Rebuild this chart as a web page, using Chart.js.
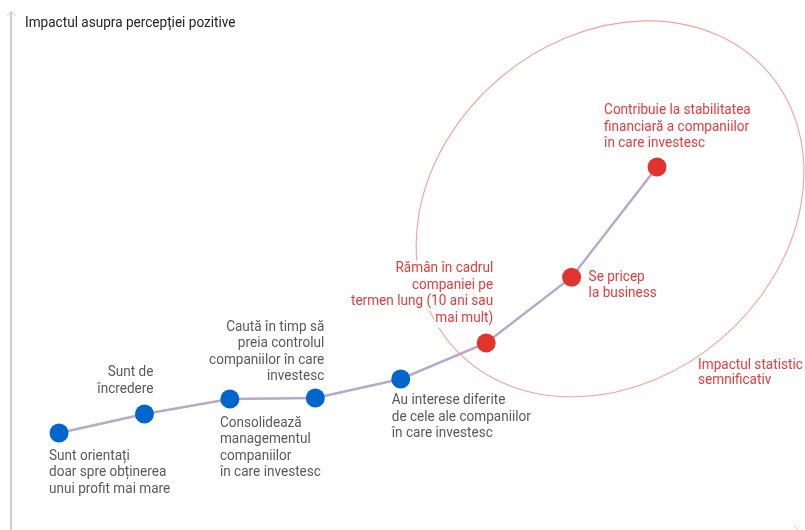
<!DOCTYPE html>
<html>
<head>
<meta charset="utf-8">
<script src="https://cdn.jsdelivr.net/npm/chart.js@4.4.0/dist/chart.umd.min.js"></script>
<style>
  html, body { margin: 0; padding: 0; background: #fff; }
  #wrap { width: 805px; height: 530px; position: relative; }
</style>
</head>
<body>
<div id="wrap"><canvas id="myChart"></canvas></div>
<script>
// date
const etichete = [
  ['Sunt orientați', 'doar spre obținerea', 'unui profit mai mare'],
  ['Sunt de', 'încredere'],
  ['Consolidează', 'managementul', 'companiilor', 'în care investesc'],
  ['Caută în timp să', 'preia controlul', 'companiilor în care', 'investesc'],
  ['Au interese diferite', 'de cele ale companiilor', 'în care investesc'],
  ['Rămân în cadrul', 'companiei pe', 'termen lung (10 ani sau', 'mai mult)'],
  ['Se pricep', 'la business'],
  ['Contribuie la stabilitatea', 'financiară a companiilor', 'în care investesc']
];
const pozitie = [1, 2, 3, 4, 5, 6, 7, 8];
const impact = [18.3, 21.9, 24.7, 24.9, 28.5, 35.3, 47.7, 68.5];
const semnificativ = [false, false, false, false, false, true, true, true];

const titluAxa = 'Impactul asupra percepției pozitive';
const notaCerc = ['Impactul statistic', 'semnificativ'];

// asezarea etichetelor fata de puncte (px)
const asezare = [
  { align: 'left',  dx: -10, dy: 23 },
  { align: 'right', dx: 9,   dy: -41 },
  { align: 'left',  dx: -10, dy: 24 },
  { align: 'right', dx: 9,   dy: -71 },
  { align: 'left',  dx: -9,  dy: 22 },
  { align: 'right', dx: 7,   dy: -74 },
  { align: 'left',  dx: 17,  dy: 0 },
  { align: 'left',  dx: -53, dy: -56 }
];

const albastru = '#0066cc';
const rosu = '#e1342f';
const textGri = '#595959';
const textRosu = '#e43b3b';
const SQ = 0.97;
const FONT = '14px Roboto, "Noto Sans", sans-serif';
const lineH = 16.5;

const ctx = document.getElementById('myChart');

function scrie(c, str, x, y, align) {
  c.save();
  c.translate(x, y);
  c.scale(SQ, 1);
  c.textAlign = align;
  c.textBaseline = 'middle';
  c.fillText(str, 0, 0);
  c.restore();
}

const decor = {
  id: 'decor',
  beforeDatasetsDraw(chart) {
    const c = chart.ctx;
    const xs = chart.scales.x, ys = chart.scales.y;
    c.save();
    // axa verticala cu sageata
    c.strokeStyle = '#cfcfcf';
    c.lineWidth = 2;
    c.beginPath();
    c.moveTo(11, 12);
    c.lineTo(11, 532);
    c.stroke();
    c.lineWidth = 1;
    c.beginPath();
    c.moveTo(7.5, 16);
    c.lineTo(11.5, 11);
    c.lineTo(15.5, 16);
    c.stroke();
    // sageata axei orizontale
    c.beginPath();
    c.moveTo(794, 526);
    c.lineTo(799, 531);
    c.stroke();

    // elipsa zonei semnificative
    const cx = xs.getPixelForValue(7.45), cy = ys.getPixelForValue(60.6);
    c.strokeStyle = '#f3a29b';
    c.lineWidth = 1.1;
    c.beginPath();
    c.ellipse(cx, cy, 209, 171, -40.5 * Math.PI / 180, 0, Math.PI * 2);
    c.stroke();

    // fundal alb sub etichete
    c.font = FONT;
    c.fillStyle = '#fff';
    const meta = chart.getDatasetMeta(0);
    meta.data.forEach((pt, i) => {
      const a = asezare[i];
      etichete[i].forEach((ln, k) => {
        const w = c.measureText(ln).width * SQ;
        const x0 = a.align === 'left' ? pt.x + a.dx : pt.x + a.dx - w;
        const y0 = pt.y + a.dy + k * lineH;
        c.fillRect(x0 - 1, y0 - 8, w + 2, 17);
      });
    });
    c.restore();
  },
  afterDatasetsDraw(chart) {
    const c = chart.ctx;
    const xs = chart.scales.x, ys = chart.scales.y;
    c.save();
    c.font = FONT;
    const meta = chart.getDatasetMeta(0);
    meta.data.forEach((pt, i) => {
      const a = asezare[i];
      c.fillStyle = semnificativ[i] ? textRosu : textGri;
      etichete[i].forEach((ln, k) => {
        scrie(c, ln, pt.x + a.dx, pt.y + a.dy + k * lineH, a.align);
      });
    });
    // nota elipsei
    const cx = xs.getPixelForValue(7.45), cy = ys.getPixelForValue(60.6);
    c.fillStyle = textRosu;
    notaCerc.forEach((ln, k) => scrie(c, ln, cx + 88, cy + 157 + k * 15, 'left'));
    // titlul axei
    c.fillStyle = '#222';
    c.font = '14px Roboto, "Noto Sans", sans-serif';
    scrie(c, titluAxa, 25, 23, 'left');
    c.restore();
  }
};

new Chart(ctx, {
  type: 'line',
  data: {
    datasets: [{
      data: pozitie.map((p, i) => ({ x: p, y: impact[i] })),
      borderColor: '#b8a9c8',
      borderWidth: 2.5,
      tension: 0,
      pointRadius: 9.5,
      pointHoverRadius: 9.5,
      pointBorderWidth: 0,
      pointBackgroundColor: semnificativ.map(s => s ? rosu : albastru)
    }]
  },
  options: {
    responsive: true,
    maintainAspectRatio: false,
    animation: false,
    layout: { padding: 0, autoPadding: false },
    plugins: { legend: { display: false }, tooltip: { enabled: false } },
    scales: {
      x: { type: 'linear', min: 0.309, max: 9.732, display: false },
      y: { min: 0, max: 100, display: false }
    }
  },
  plugins: [decor]
});
</script>
</body>
</html>
